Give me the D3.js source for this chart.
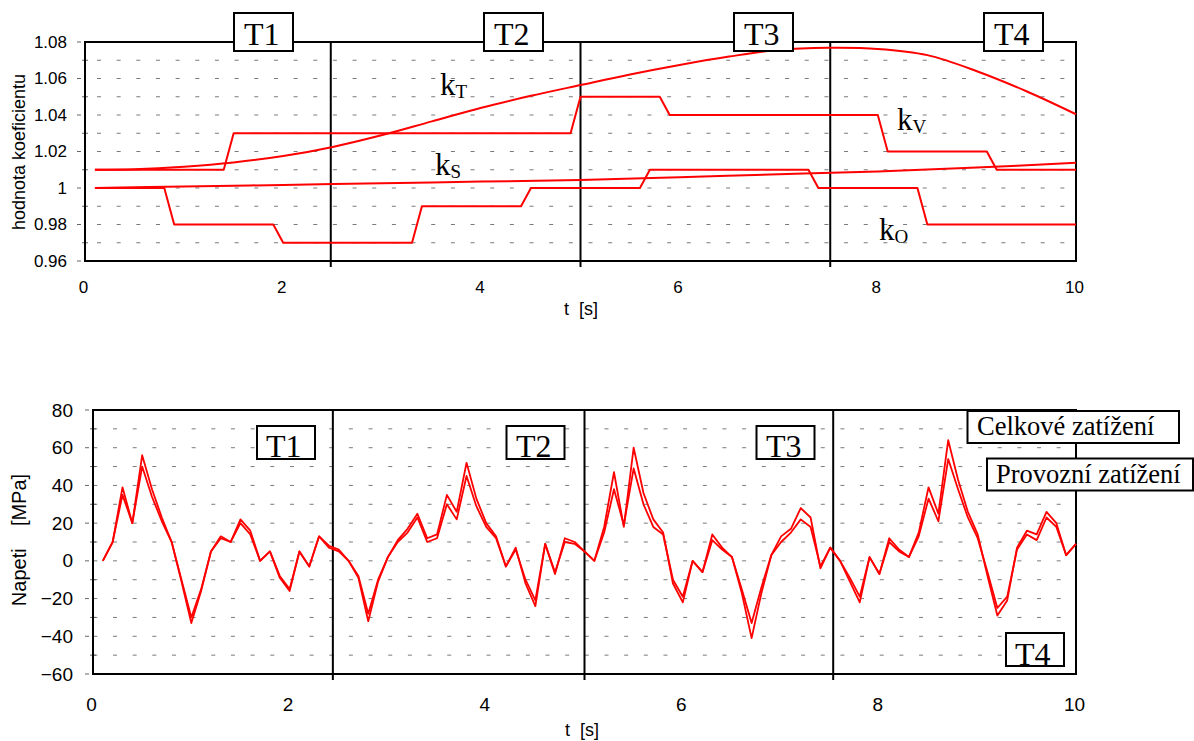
<!DOCTYPE html>
<html>
<head>
<meta charset="utf-8">
<script src="https://cdn.jsdelivr.net/npm/d3@7"></script>
<style>
  html, body { margin: 0; padding: 0; background: #fff; }
  svg { display: block; }
</style>
</head>
<body>
<svg id="chart" width="1194" height="741"></svg>
<script>
// ---------- data: load coefficients (upper panel) ----------
const kTTimes  = [0.1, 0.5, 1.0, 1.5, 2.0, 2.5, 3.0, 3.5, 4.0, 4.5, 5.0, 5.5, 6.0, 6.5, 7.0, 7.5, 8.0, 8.5, 9.0, 9.5, 10.0];
const kTValues = [1.0100, 1.0103, 1.0117, 1.0140, 1.0175, 1.0225, 1.0290, 1.0365, 1.0440, 1.0505, 1.0564, 1.0622, 1.0674, 1.0720, 1.0757, 1.0768, 1.0762, 1.0728, 1.0640, 1.0530, 1.0404];

const kSTimes  = [0.1, 1, 2, 3, 4, 5, 6, 7, 8, 9, 10];
const kSValues = [1.0000, 1.0008, 1.0017, 1.0026, 1.0035, 1.0044, 1.0059, 1.0075, 1.0091, 1.0112, 1.0139];

const kVTimes  = [0.1, 1.4, 1.5, 4.9, 5.0, 5.8, 5.9, 8.0, 8.1, 9.1, 9.2, 10.0];
const kVValues = [1.01, 1.01, 1.03, 1.03, 1.05, 1.05, 1.04, 1.04, 1.02, 1.02, 1.01, 1.01];

const kOTimes  = [0.1, 0.8, 0.9, 1.9, 2.0, 3.3, 3.4, 4.4, 4.5, 5.6, 5.7, 7.3, 7.4, 8.4, 8.5, 10.0];
const kOValues = [1.00, 1.00, 0.98, 0.98, 0.97, 0.97, 0.99, 0.99, 1.00, 1.00, 1.01, 1.01, 1.00, 1.00, 0.98, 0.98];

const topYTicks   = [0.96, 0.98, 1.00, 1.02, 1.04, 1.06, 1.08];
const topYLabels  = ["0.96", "0.98", "1", "1.02", "1.04", "1.06", "1.08"];
const topYMinor   = [0.97, 0.99, 1.01, 1.03, 1.05, 1.07];
const topDividers = [2.48, 5.0, 7.52];

// ---------- data: stress history (lower panel) ----------
const tSamples = [
  0.1, 0.2, 0.3, 0.4, 0.5, 0.6, 0.7, 0.8, 0.9, 1.0,
  1.1, 1.2, 1.3, 1.4, 1.5, 1.6, 1.7, 1.8, 1.9, 2.0,
  2.1, 2.2, 2.3, 2.4, 2.5, 2.6, 2.7, 2.8, 2.9, 3.0,
  3.1, 3.2, 3.3, 3.4, 3.5, 3.6, 3.7, 3.8, 3.9, 4.0,
  4.1, 4.2, 4.3, 4.4, 4.5, 4.6, 4.7, 4.8, 4.9, 5.0,
  5.1, 5.2, 5.3, 5.4, 5.5, 5.6, 5.7, 5.8, 5.9, 6.0,
  6.1, 6.2, 6.3, 6.4, 6.5, 6.6, 6.7, 6.8, 6.9, 7.0,
  7.1, 7.2, 7.3, 7.4, 7.5, 7.6, 7.7, 7.8, 7.9, 8.0,
  8.1, 8.2, 8.3, 8.4, 8.5, 8.6, 8.7, 8.8, 8.9, 9.0,
  9.1, 9.2, 9.3, 9.4, 9.5, 9.6, 9.7, 9.8, 9.9, 10.0
];
const celkove = [
   0,  10,  39,  20,  56,  38,  23,  10, -11, -33,
 -16,   5,  13,  10,  22,  16,   0,   5,  -9, -16,
   5,  -3,  13,   8,   6,   0,  -9, -32, -11,   2,
  11,  17,  25,  12,  14,  35,  26,  52,  33,  20,
  13,  -3,   7, -12, -24,   9,  -7,  12,  10,   5,
   0,  18,  47,  18,  60,  36,  22,  15, -12, -22,
   0,  -6,  14,   7,   2, -17, -41, -17,   3,  13,
  17,  28,  23,  -4,   7,   0, -11, -22,   2,  -7,
  12,   6,   2,  15,  39,  25,  64,  43,  26,  14,
  -8, -29, -21,   7,  16,  14,  26,  20,   3,   9
];
const provozni = [
   0,  10,  35,  20,  50,  34,  21,  10, -10, -30,
 -15,   5,  12,  10,  20,  14,   0,   5,  -8, -15,
   5,  -3,  13,   7,   5,   0,  -8, -28, -10,   2,
  10,  15,  23,  10,  12,  30,  22,  45,  29,  18,
  12,  -3,   6, -10, -21,   9,  -6,  10,   9,   5,
   0,  15,  38,  19,  49,  30,  18,  14, -10, -19,
   0,  -6,  11,   6,   2, -15, -33, -14,   3,  10,
  15,  22,  18,  -3,   7,   0,  -9, -19,   2,  -7,
  10,   5,   2,  13,  33,  21,  54,  38,  23,  12,
  -6, -25, -19,   6,  14,  11,  23,  18,   3,   9
];

const botYTicks   = [-60, -40, -20, 0, 20, 40, 60, 80];
const botYMinor   = [-50, -30, -10, 10, 30, 50, 70];
const botDividers = [2.44, 5.0, 7.53];

const xTicks = [0, 2, 4, 6, 8, 10];

// ---------- drawing ----------
const svg = d3.select("#chart");
const SANS  = "'Liberation Sans', Arial, sans-serif";
const SERIF = "'Liberation Serif', 'Times New Roman', serif";
const RED = "#ff0000";
const DASH_PERIOD = 19.66;

function zip(ts, vs) { return ts.map((t, i) => [t, vs[i]]); }

function drawFrame(x, y, opts) {
  const [x0, x1] = x.range();
  const [yb, yt] = y.range();
  const g = svg.append("g");

  // dashed horizontal grid
  const gridVals = opts.major.concat(opts.minor).filter(v => v !== y.domain()[0] && v !== y.domain()[1]);
  g.selectAll("line.grid").data(gridVals).join("line")
    .attr("x1", x0).attr("x2", x1 - 2)
    .attr("y1", d => y(d)).attr("y2", d => y(d))
    .attr("stroke", "#7a7a7a").attr("stroke-width", 1)
    .attr("stroke-dasharray", `4 ${DASH_PERIOD - 4}`)
    .attr("stroke-dashoffset", DASH_PERIOD - opts.dashStart);

  // y tick marks: major outside, minor crossing
  g.selectAll("line.maj").data(opts.major).join("line")
    .attr("x1", x0 - 8).attr("x2", x0 - 4)
    .attr("y1", d => y(d)).attr("y2", d => y(d))
    .attr("stroke", "#666").attr("stroke-width", 1);
  g.selectAll("line.min").data(opts.minor).join("line")
    .attr("x1", x0 - 3).attr("x2", x0 + 3)
    .attr("y1", d => y(d)).attr("y2", d => y(d))
    .attr("stroke", "#666").attr("stroke-width", 1);

  // phase dividers
  g.selectAll("line.div").data(opts.dividers).join("line")
    .attr("x1", d => x(d)).attr("x2", d => x(d))
    .attr("y1", yt).attr("y2", yb + 6)
    .attr("stroke", "#000").attr("stroke-width", 2);

  // plot border
  g.append("rect")
    .attr("x", x0).attr("y", yt).attr("width", x1 - x0).attr("height", yb - yt)
    .attr("fill", "none").attr("stroke", "#000").attr("stroke-width", 2);

  // y axis labels
  const ya = svg.append("g").attr("transform", `translate(${x0},0)`)
    .call(d3.axisLeft(y).tickValues(opts.major).tickFormat(opts.yFormat)
      .tickSize(0).tickPadding(opts.yPad));
  ya.select(".domain").remove();
  ya.selectAll("text").attr("font-family", SANS).attr("font-size", opts.fs).attr("fill", "#000");

  // x axis labels
  const xa = svg.append("g").attr("transform", `translate(0,${yb})`)
    .call(d3.axisBottom(x).tickValues(xTicks).tickFormat(d3.format("d"))
      .tickSize(0).tickPadding(opts.xPad));
  xa.select(".domain").remove();
  xa.selectAll("text").attr("font-family", SANS).attr("font-size", opts.fs)
    .attr("fill", "#000").attr("dx", -2);
}

function boxLabel(bx, by, w, h, label, tx, ty, fs) {
  const g = svg.append("g");
  g.append("rect").attr("x", bx).attr("y", by).attr("width", w).attr("height", h)
    .attr("fill", "#fff").attr("stroke", "#000").attr("stroke-width", 2);
  g.append("text").attr("x", tx).attr("y", ty)
    .attr("font-family", SERIF).attr("font-size", fs).attr("fill", "#000")
    .text(label);
}

function kLabel(x, y, sub) {
  const t = svg.append("text").attr("x", x).attr("y", y)
    .attr("font-family", SERIF).attr("font-size", 31).attr("fill", "#000");
  t.append("tspan").text("k");
  t.append("tspan").attr("font-size", 19).attr("dy", 3).text(sub);
}

// ===== upper panel: coefficients =====
const xT = d3.scaleLinear().domain([0, 10]).range([85, 1076]);
const yT = d3.scaleLinear().domain([0.96, 1.08]).range([261, 42]);

drawFrame(xT, yT, {
  major: topYTicks, minor: topYMinor, dividers: topDividers,
  dashStart: 12, yPad: 18, xPad: 20, fs: 17,
  yFormat: (d, i) => topYLabels[i]
});

const lineTop = d3.line().x(d => xT(d[0])).y(d => yT(d[1]));
const lineTopSmooth = d3.line().x(d => xT(d[0])).y(d => yT(d[1])).curve(d3.curveCatmullRom.alpha(0.5));

const topSeries = [
  { pts: zip(kTTimes, kTValues), gen: lineTopSmooth },
  { pts: zip(kSTimes, kSValues), gen: lineTopSmooth },
  { pts: zip(kVTimes, kVValues), gen: lineTop },
  { pts: zip(kOTimes, kOValues), gen: lineTop }
];
svg.append("g").selectAll("path").data(topSeries).join("path")
  .attr("d", s => s.gen(s.pts))
  .attr("fill", "none").attr("stroke", RED).attr("stroke-width", 2)
  .attr("stroke-linejoin", "round");

kLabel(440, 95, "T");
kLabel(435, 175, "S");
kLabel(897, 130, "V");
kLabel(879, 240, "O");

// axis titles
svg.append("text")
  .attr("transform", "translate(25,152) rotate(-90)")
  .attr("text-anchor", "middle").attr("font-family", SANS).attr("font-size", 18)
  .text("hodnota koeficientu");
svg.append("text")
  .attr("x", 581).attr("y", 315).attr("text-anchor", "middle")
  .attr("font-family", SANS).attr("font-size", 18)
  .style("white-space", "pre")
  .text("t  [s]");

// phase boxes on the top edge
["T1", "T2", "T3", "T4"].forEach((lab, i) => {
  const bx = 234 + 250 * i;
  boxLabel(bx, 13, 59, 38, lab, bx + 10, 45, 32);
});

// ===== lower panel: stress =====
const xB = d3.scaleLinear().domain([0, 10]).range([93, 1076]);
const yB = d3.scaleLinear().domain([-60, 80]).range([674, 410]);

drawFrame(xB, yB, {
  major: botYTicks, minor: botYMinor, dividers: botDividers,
  dashStart: 20, yPad: 20, xPad: 24, fs: 19,
  yFormat: d3.format("d")
});

const lineBot = d3.line().x(d => xB(d[0])).y(d => yB(d[1]));
svg.append("g").selectAll("path").data([zip(tSamples, provozni), zip(tSamples, celkove)]).join("path")
  .attr("d", lineBot)
  .attr("fill", "none").attr("stroke", RED).attr("stroke-width", 1.8)
  .attr("stroke-linejoin", "round");

svg.append("text")
  .attr("transform", "translate(26,540) rotate(-90)")
  .attr("text-anchor", "middle").attr("font-family", SANS).attr("font-size", 20)
  .style("white-space", "pre")
  .text("Napeti    [MPa]");
svg.append("text")
  .attr("x", 582).attr("y", 736).attr("text-anchor", "middle")
  .attr("font-family", SANS).attr("font-size", 18)
  .style("white-space", "pre")
  .text("t  [s]");

boxLabel(257, 426, 58, 33, "T1", 266, 457, 32);
boxLabel(506.5, 426, 58, 33, "T2", 516, 457, 32);
boxLabel(756.5, 426, 58, 33, "T3", 766, 457, 32);
boxLabel(1006, 633, 58, 33, "T4", 1015, 665, 32);

boxLabel(967.5, 411, 211.5, 32, "Celkové zatížení", 977, 435, 26.5);
boxLabel(987, 458.5, 206, 32, "Provozní zatížení", 996, 483, 26.5);
</script>
</body>
</html>
